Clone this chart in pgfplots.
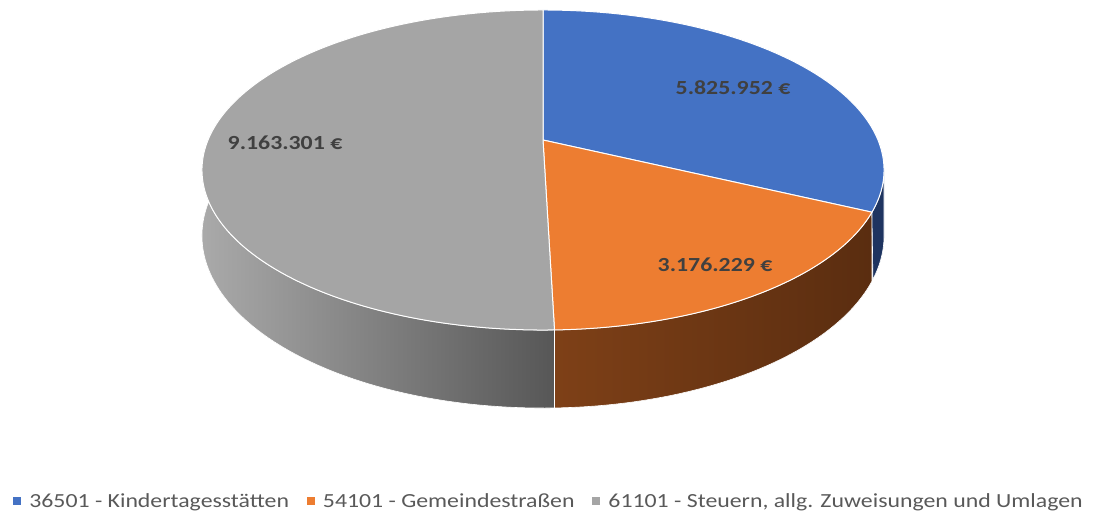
\documentclass[border=0pt]{standalone}
\usepackage{pgfplots}
\pgfplotsset{compat=1.18}
\usepackage{fontspec}
\setmainfont[FakeStretch=1.19]{Carlito}
\definecolor{cblue}{HTML}{4472C4}
\definecolor{corange}{HTML}{ED7D31}
\definecolor{cgray}{HTML}{A5A5A5}
\definecolor{txt}{HTML}{404040}
\definecolor{legtxt}{HTML}{595959}
% values
\def\va{5825952}
\def\vb{3176229}
\def\vc{9163301}
\begingroup
\pgfkeys{/pgf/fpu=true,/pgf/fpu/output format=fixed}
\pgfmathsetmacro\tot{\va+\vb+\vc}
\pgfmathsetmacro\tmpB{90-360*\va/\tot}
\pgfmathsetmacro\tmpC{90-360*(\va+\vb)/\tot}
\global\let\aB\tmpB
\global\let\aC\tmpC
\endgroup
\def\aA{90}
\pgfmathsetmacro\aD{\aC+360}
\begin{document}
\begin{tikzpicture}
\begin{axis}[
  scale only axis, width=1097pt, height=515pt,
  xmin=0, xmax=1097, ymin=0, ymax=515,
  hide axis, clip=false,
  declare function={
    px(\t)=543+335*cos(\t)/(1+0.1875*sin(\t));
    py(\t)=375+154.4*sin(\t)/(1+0.1875*sin(\t));
    dep(\t)=63.4/(1+0.1875*sin(\t));
    st(\s,\a,\b)=(\s<1.006)*(\a+min(\s,1)*(\b-\a))+(\s>1.006)*(\b+max(\s-1.0125,0)/0.9875*(\a-\b));
  },
  legend columns=3,
  legend style={draw=none, fill=none, at={(axis cs:549,14)}, anchor=center,
    font=\fontsize{20}{24}\selectfont\color{legtxt},
    /tikz/every odd column/.append style={column sep=7pt},
    /tikz/every even column/.append style={column sep=16pt}},
  legend cell align=left,
]
\addplot[draw=none, forget plot] coordinates {(0,0) (1097,515)};
% side walls
\pgfmathsetmacro\rr{-10.8}
\pgfmathsetmacro\ll{-190.8}
\addplot[forget plot, draw=white, line width=0.6pt, left color=cgray!95!white, right color=black!66, variable=\s, domain=0:2, samples=161]
  ({px(st(\s,\aC,\ll))},{py(st(\s,\aC,\ll))-(\s>1.006)*dep(st(\s,\aC,\ll))}) -- cycle;
\addplot[forget plot, draw=white, line width=0.6pt, left color={rgb,255:red,126;green,64;blue,23}, right color={rgb,255:red,90;green,45;blue,16}, variable=\s, domain=0:2, samples=161]
  ({px(st(\s,\aB,\aC))},{py(st(\s,\aB,\aC))-(\s>1.006)*dep(st(\s,\aB,\aC))}) -- cycle;
\addplot[forget plot, draw=white, line width=0.6pt, fill={rgb,255:red,30;green,52;blue,96}, variable=\s, domain=0:2, samples=41]
  ({px(st(\s,\rr,\aB))},{py(st(\s,\rr,\aB))-(\s>1.006)*dep(st(\s,\rr,\aB))}) -- cycle;
% top face
\addplot[forget plot, fill=cblue, draw=white, line width=1pt, variable=\t, domain=\aB:\aA, samples=100]
  ({px(\t)},{py(\t)}) -- (543,375) -- cycle;
\addplot[forget plot, fill=corange, draw=white, line width=1pt, variable=\t, domain=\aC:\aB, samples=60]
  ({px(\t)},{py(\t)}) -- (543,375) -- cycle;
\addplot[forget plot, fill=cgray, draw=white, line width=1pt, variable=\t, domain=\aA:\aD, samples=150]
  ({px(\t)},{py(\t)}) -- (543,375) -- cycle;
% labels
\node[font=\fontsize{20}{24}\selectfont\bfseries, text=txt] at (733,427) {5.825.952 €};
\node[font=\fontsize{20}{24}\selectfont\bfseries, text=txt] at (715,250) {3.176.229 €};
\node[font=\fontsize{20}{24}\selectfont\bfseries, text=txt] at (285,372) {9.163.301 €};
% legend
\addlegendimage{only marks, mark=square*, mark size=3.5pt, cblue}
\addlegendentry{36501 - Kindertagesstätten}
\addlegendimage{only marks, mark=square*, mark size=3.5pt, corange}
\addlegendentry{54101 - Gemeindestraßen}
\addlegendimage{only marks, mark=square*, mark size=3.5pt, cgray}
\addlegendentry{61101 - Steuern, allg. Zuweisungen und Umlagen}
\end{axis}
\end{tikzpicture}
\end{document}
